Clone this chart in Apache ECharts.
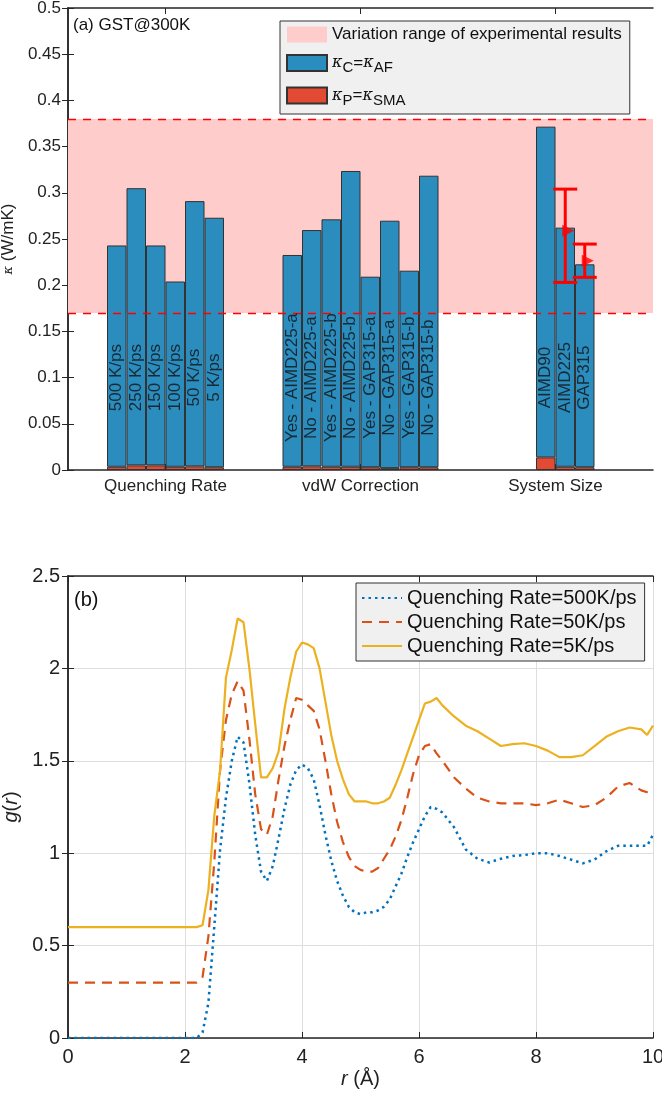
<!DOCTYPE html>
<html>
<head>
<meta charset="utf-8">
<script src="https://cdn.jsdelivr.net/npm/echarts@6/dist/echarts.min.js"></script>
<style>
html, body { margin: 0; padding: 0; background: #fff; }
#main { width: 662px; height: 1099px; }
</style>
</head>
<body>
<div id="main"></div>
<script>
// ---- (a) thermal conductivity ----
var quenchNames = ['500 K/ps', '250 K/ps', '150 K/ps', '100 K/ps', '50 K/ps', '5 K/ps'];
var quenchKC = [0.2395, 0.300, 0.238, 0.2005, 0.287, 0.270];
var quenchKP = [0.0035, 0.005, 0.005, 0.0035, 0.004, 0.003];

var vdwNames = ['Yes - AIMD225-a', 'No - AIMD225-a', 'Yes - AIMD225-b', 'No - AIMD225-b',
                'Yes - GAP315-a', 'No - GAP315-a', 'Yes - GAP315-b', 'No - GAP315-b'];
var vdwKC = [0.2292, 0.2557, 0.2678, 0.3201, 0.2062, 0.2678, 0.2127, 0.3155];
var vdwKP = [0.0035, 0.004, 0.0035, 0.0035, 0.003, 0.002, 0.003, 0.003];

var sizeNames = ['AIMD90', 'AIMD225', 'GAP315'];
var sizeKC = [0.3579, 0.2588, 0.2196];
var sizeKP = [0.0137, 0.0035, 0.003];

var groupNames = ['Quenching Rate', 'vdW Correction', 'System Size'];
var groupTicks = [5, 15, 25];
var expRange = [0.17, 0.38];

// error bars on the system size group (AIMD225, GAP315)
var errBar = ['AIMD225', 'GAP315'];
var errLow = [0.203, 0.2085];
var errHigh = [0.304, 0.2445];
var errMid = [0.259, 0.2265];

// ---- (b) g(r) ----
var r = [0, 2.2, 2.3, 2.4, 2.5, 2.6, 2.7, 2.8, 2.9, 3.0, 3.1, 3.2, 3.3, 3.4, 3.5, 3.6, 3.7, 3.8, 3.9, 4.0,
         4.1, 4.2, 4.3, 4.4, 4.5, 4.6, 4.7, 4.8, 4.9, 5.0, 5.1, 5.2, 5.3, 5.4, 5.5, 5.6, 5.7, 5.8, 5.9, 6.0,
         6.1, 6.2, 6.3, 6.4, 6.6, 6.8, 7.0, 7.2, 7.4, 7.6, 7.8, 8.0, 8.2, 8.4, 8.6, 8.8, 9.0, 9.2, 9.4, 9.6,
         9.8, 9.9, 10];
var g500 = [0, 0, 0.03, 0.19, 0.6, 1.02, 1.3, 1.5, 1.63, 1.6, 1.38, 1.1, 0.9, 0.85, 0.93, 1.08, 1.24, 1.37, 1.45, 1.48,
            1.46, 1.4, 1.26, 1.1, 0.96, 0.85, 0.77, 0.71, 0.68, 0.67, 0.68, 0.68, 0.69, 0.71, 0.75, 0.82, 0.89, 0.98, 1.06, 1.13,
            1.2, 1.25, 1.24, 1.22, 1.14, 1.02, 0.97, 0.95, 0.97, 0.985, 0.99, 1.0, 1.0, 0.985, 0.965, 0.945, 0.965, 1.01, 1.04, 1.04,
            1.04, 1.04, 1.1];
var g50 = [0.3, 0.3, 0.33, 0.55, 0.95, 1.45, 1.72, 1.86, 1.93, 1.88, 1.62, 1.32, 1.13, 1.1, 1.2, 1.4, 1.58, 1.72, 1.84, 1.83,
           1.8, 1.77, 1.67, 1.5, 1.32, 1.17, 1.06, 0.98, 0.93, 0.91, 0.9, 0.9, 0.92, 0.97, 1.02, 1.09, 1.18, 1.3, 1.43, 1.53,
           1.58, 1.59, 1.54, 1.5, 1.41, 1.35, 1.3, 1.28, 1.27, 1.27, 1.27, 1.26, 1.27, 1.29, 1.27, 1.25, 1.26, 1.3, 1.36, 1.38,
           1.34, 1.33, 1.33];
var g5 = [0.6, 0.6, 0.61, 0.8, 1.2, 1.45, 1.95, 2.1, 2.27, 2.25, 2.0, 1.7, 1.41, 1.41, 1.46, 1.55, 1.78, 1.95, 2.09, 2.14,
          2.13, 2.11, 2.0, 1.82, 1.64, 1.5, 1.4, 1.32, 1.28, 1.28, 1.28, 1.27, 1.27, 1.28, 1.3, 1.37, 1.45, 1.54, 1.63, 1.72,
          1.81, 1.82, 1.84, 1.8, 1.74, 1.69, 1.66, 1.62, 1.58, 1.59, 1.595, 1.58, 1.555, 1.52, 1.52, 1.53, 1.58, 1.63, 1.66, 1.68,
          1.67, 1.64, 1.69];
var lineNames = ['Quenching Rate=500K/ps', 'Quenching Rate=50K/ps', 'Quenching Rate=5K/ps'];

// build the 30 slot category axis (bars touch, empty slots between groups)
var nSlots = 30;
var groupStart = [2, 11, 24];
var slots = [], slotKC = [], slotKP = [], slotLabel = [];
for (var i = 0; i < nSlots; i++) { slots.push(String(i)); slotKC.push('-'); slotKP.push('-'); }
function fillGroup(start, names, kc, kp) {
    for (var j = 0; j < names.length; j++) {
        slotKC[start + j] = kc[j];
        slotKP[start + j] = kp[j];
        slotLabel.push({ value: [start + j, 0.1], name: names[j] });
    }
}
fillGroup(groupStart[0], quenchNames, quenchKC, quenchKP);
fillGroup(groupStart[1], vdwNames, vdwKC, vdwKP);
fillGroup(groupStart[2], sizeNames, sizeKC, sizeKP);

var errData = [], errMarks = [];
for (var e = 0; e < errBar.length; e++) {
    var idx = groupStart[2] + sizeNames.indexOf(errBar[e]);
    errData.push([idx, errLow[e], errHigh[e]]);
    errMarks.push([idx, errMid[e]]);
}

function pairs(xs, ys) {
    return xs.map(function (x, k) { return [x, ys[k]]; });
}

var font = 'Liberation Sans';
var axisCol = '#262626';
// ticks drawn inward (MATLAB style)
var tick = { show: true, inside: false, length: -6, lineStyle: { color: axisCol } };
var legendRich = {
    'κC=κAF': '{k|κ}{s|C}={k|κ}{s|AF}',
    'κP=κSMA': '{k|κ}{s|P}={k|κ}{s|SMA}'
};
function withTicks(extra) {
    return Object.assign({}, tick, extra || {});
}

var myChart = echarts.init(document.getElementById('main'));
var option = {
    animation: false,
    textStyle: { fontFamily: font },
    title: [
        { text: '(a) GST@300K', left: 68, top: 12, textStyle: { fontSize: 17, fontWeight: 'normal', color: '#111', fontFamily: font } },
        { text: '(b)', left: 69, top: 585, textStyle: { fontSize: 20, fontWeight: 'normal', color: '#111', fontFamily: font } }
    ],
    legend: [
        {
            left: 280, top: 21, orient: 'vertical',
            backgroundColor: '#f0f0f0', borderColor: '#333', borderWidth: 1,
            padding: [5, 8, 6, 6], itemWidth: 40, itemHeight: 16, itemGap: 11,
            data: [
                { name: 'Variation range of experimental results', icon: 'rect' },
                { name: 'κC=κAF', icon: 'rect' },
                { name: 'κP=κSMA', icon: 'rect' }
            ],
            formatter: function (name) { return legendRich[name] || name; },
            textStyle: {
                fontSize: 17, color: '#111', fontFamily: font,
                rich: {
                    k: { fontSize: 16, fontStyle: 'italic', fontFamily: 'DejaVu Serif', color: '#111' },
                    s: { fontSize: 15, color: '#111', fontFamily: font, padding: [10, 0, 0, 0] }
                }
            }
        },
        {
            left: 356, top: 583, orient: 'vertical',
            backgroundColor: '#f0f0f0', borderColor: '#333', borderWidth: 1,
            padding: [4, 8, 4, 5], itemWidth: 40, itemHeight: 14, itemGap: 2,
            itemStyle: { opacity: 0 },
            data: lineNames,
            textStyle: { fontSize: 20, color: '#111', fontFamily: font, lineHeight: 22 }
        }
    ],
    grid: [
        { left: 68, right: 9, top: 8, height: 462, outerBoundsMode: 'none' },
        { left: 68, right: 9, top: 576, height: 462, outerBoundsMode: 'none' }
    ],
    xAxis: [
        {
            type: 'category', gridIndex: 0, data: slots,
            axisLine: { show: true, lineStyle: { color: axisCol, width: 1.5 } },
            axisTick: { show: false }, axisLabel: { show: false }
        },
        {
            type: 'value', gridIndex: 0, min: 0, max: nSlots, position: 'bottom',
            axisLine: { show: false },
            axisTick: withTicks({ customValues: groupTicks }),
            axisLabel: {
                customValues: groupTicks, fontSize: 17, color: '#222', margin: 8, fontFamily: font,
                formatter: function (v) { return groupNames[groupTicks.indexOf(v)] || ''; }
            },
            splitLine: { show: false }
        },
        {
            type: 'value', gridIndex: 0, min: 0, max: nSlots, position: 'top',
            axisLine: { show: true, onZero: false, lineStyle: { color: axisCol, width: 1.5 } },
            axisTick: withTicks({ customValues: groupTicks }),
            axisLabel: { show: false }, splitLine: { show: false }
        },
        {
            type: 'value', gridIndex: 1, min: 0, max: 10, interval: 2, position: 'bottom',
            axisLine: { show: true, onZero: false, lineStyle: { color: axisCol, width: 1.5 } },
            axisTick: withTicks(),
            axisLabel: { fontSize: 20, color: '#222', margin: 9, fontFamily: font },
            splitLine: { show: true, lineStyle: { color: '#dedede', width: 1 } },
            name: '{i|r} (Å)', nameLocation: 'middle', nameGap: 31,
            nameTextStyle: { fontSize: 20, color: '#222', fontFamily: font, rich: { i: { fontSize: 20, fontStyle: 'italic', fontFamily: font, color: '#222' } } }
        },
        {
            type: 'value', gridIndex: 1, min: 0, max: 10, interval: 2, position: 'top',
            axisLine: { show: true, onZero: false, lineStyle: { color: axisCol, width: 1.5 } },
            axisTick: withTicks(),
            axisLabel: { show: false }, splitLine: { show: false }
        }
    ],
    yAxis: [
        {
            type: 'value', gridIndex: 0, min: 0, max: 0.5, interval: 0.05,
            axisLine: { show: true, lineStyle: { color: axisCol, width: 1.5 } },
            axisTick: withTicks(),
            axisLabel: { fontSize: 17, color: '#222', margin: 7, fontFamily: font },
            splitLine: { show: false },
            name: '{k|κ} (W/mK)', nameLocation: 'middle', nameGap: 46,
            nameTextStyle: { fontSize: 17, color: '#222', fontFamily: font, rich: { k: { fontSize: 13, fontStyle: 'italic', fontFamily: 'DejaVu Serif', color: '#222' } } }
        },
        {
            type: 'value', gridIndex: 0, min: 0, max: 0.5, interval: 0.05, position: 'right',
            axisLine: { show: true, lineStyle: { color: axisCol, width: 1.5 } },
            axisTick: withTicks(),
            axisLabel: { show: false }, splitLine: { show: false }
        },
        {
            type: 'value', gridIndex: 1, min: 0, max: 2.5, interval: 0.5,
            axisLine: { show: true, lineStyle: { color: axisCol, width: 1.5 } },
            axisTick: withTicks(),
            axisLabel: { fontSize: 20, color: '#222', margin: 8, fontFamily: font },
            splitLine: { show: true, lineStyle: { color: '#dedede', width: 1 } },
            name: '{i|g}({i|r})', nameLocation: 'middle', nameGap: 40,
            nameTextStyle: { fontSize: 20, color: '#222', fontFamily: font, rich: { i: { fontSize: 20, fontStyle: 'italic', fontFamily: font, color: '#222' } } }
        },
        {
            type: 'value', gridIndex: 1, min: 0, max: 2.5, interval: 0.5, position: 'right',
            axisLine: { show: true, lineStyle: { color: axisCol, width: 1.5 } },
            axisTick: withTicks(),
            axisLabel: { show: false }, splitLine: { show: false }
        }
    ],
    series: [
        {
            name: 'Variation range of experimental results', type: 'line',
            xAxisIndex: 0, yAxisIndex: 0, data: [], z: 1,
            itemStyle: { color: '#ffcccc' }, lineStyle: { color: '#ffcccc' },
            markArea: {
                silent: true, itemStyle: { color: '#ffcccc' },
                data: [[{ yAxis: expRange[0] }, { yAxis: expRange[1] }]]
            },
            markLine: {
                silent: true, symbol: 'none', label: { show: false },
                lineStyle: { color: '#ff0000', type: [8, 7], width: 1.3 },
                data: [{ yAxis: expRange[0] }, { yAxis: expRange[1] }]
            }
        },
        {
            name: 'κP=κSMA', type: 'bar', stack: 'kappa', xAxisIndex: 0, yAxisIndex: 0,
            data: slotKP, barCategoryGap: '0%', z: 3,
            itemStyle: { color: '#e34a33', borderColor: '#333', borderWidth: 1 }
        },
        {
            name: 'κC=κAF', type: 'bar', stack: 'kappa', xAxisIndex: 0, yAxisIndex: 0,
            data: slotKC, barCategoryGap: '0%', z: 3,
            itemStyle: { color: '#2b8cbe', borderColor: '#333', borderWidth: 1 }
        },
        {
            type: 'scatter', xAxisIndex: 0, yAxisIndex: 0, data: slotLabel, z: 5,
            symbolSize: 1, itemStyle: { color: 'rgba(0,0,0,0)' },
            label: {
                show: true, position: 'inside', rotate: 90, formatter: '{b}',
                fontSize: 17, color: '#111', fontFamily: font
            }
        },
        {
            type: 'custom', xAxisIndex: 0, yAxisIndex: 0, data: errData, z: 6,
            renderItem: function (params, api) {
                var lo = api.coord([api.value(0), api.value(1)]);
                var hi = api.coord([api.value(0), api.value(2)]);
                var hw = 12;
                var st = { stroke: '#ff0000', lineWidth: 3 };
                return {
                    type: 'group',
                    children: [
                        { type: 'line', shape: { x1: lo[0], y1: lo[1], x2: hi[0], y2: hi[1] }, style: st },
                        { type: 'line', shape: { x1: lo[0] - hw, y1: lo[1], x2: lo[0] + hw, y2: lo[1] }, style: st },
                        { type: 'line', shape: { x1: hi[0] - hw, y1: hi[1], x2: hi[0] + hw, y2: hi[1] }, style: st }
                    ]
                };
            }
        },
        {
            type: 'scatter', xAxisIndex: 0, yAxisIndex: 0, data: errMarks, z: 7,
            symbol: 'triangle', symbolRotate: -90, symbolSize: 12, symbolOffset: [3, 0],
            itemStyle: { color: '#ff0000' }
        },
        {
            name: lineNames[0], type: 'line', xAxisIndex: 3, yAxisIndex: 2,
            data: pairs(r, g500), symbol: 'none', showSymbol: false,
            lineStyle: { color: '#0072bd', width: 2.5, type: [2.5, 4] }, itemStyle: { color: '#0072bd' }
        },
        {
            name: lineNames[1], type: 'line', xAxisIndex: 3, yAxisIndex: 2,
            data: pairs(r, g50), symbol: 'none', showSymbol: false,
            lineStyle: { color: '#d95319', width: 2.2, type: [10, 7] }, itemStyle: { color: '#d95319' }
        },
        {
            name: lineNames[2], type: 'line', xAxisIndex: 3, yAxisIndex: 2,
            data: pairs(r, g5), symbol: 'none', showSymbol: false,
            lineStyle: { color: '#edb120', width: 2.2 }, itemStyle: { color: '#edb120' }
        }
    ]
};
myChart.setOption(option);
</script>
</body>
</html>
